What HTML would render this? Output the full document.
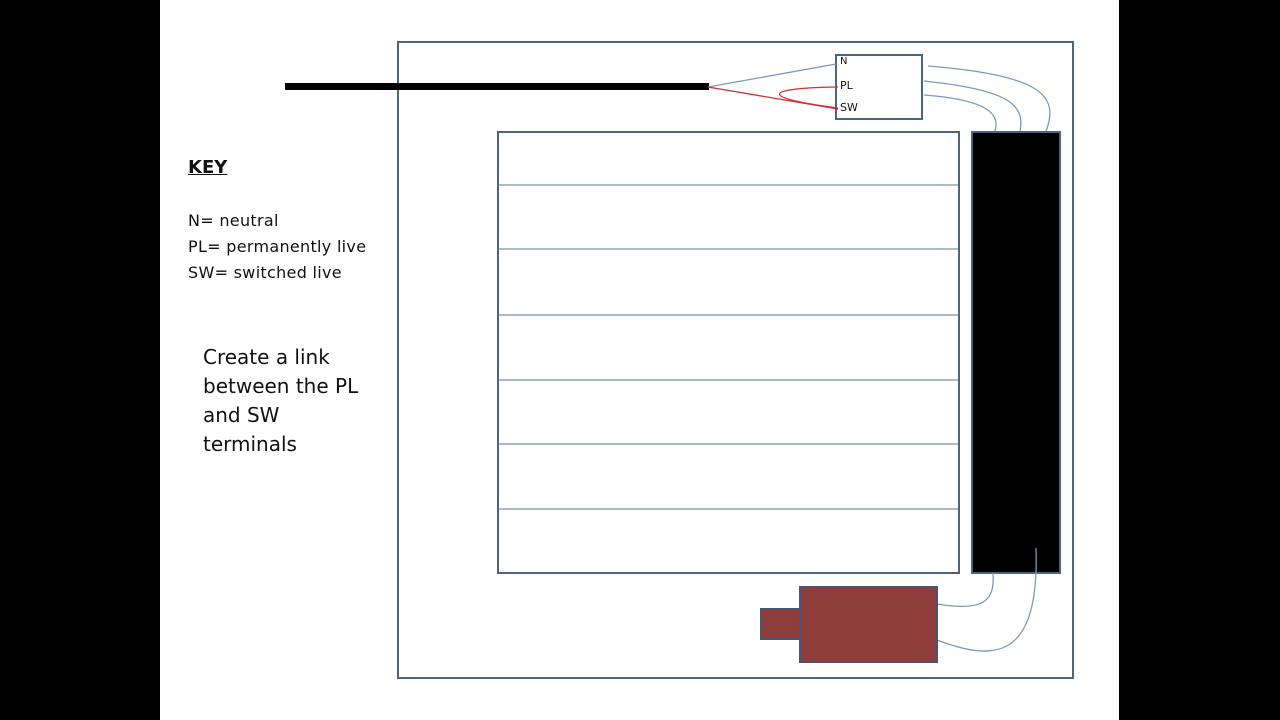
<!DOCTYPE html>
<html><head><style>
body{margin:0;background:#000;width:1280px;height:720px;overflow:hidden;font-family:"DejaVu Sans","Liberation Sans",sans-serif;}
.t{position:absolute;color:#111;}
</style></head><body>
<div style="position:absolute;left:160px;top:0;width:959px;height:720px;background:#fff"></div>
<svg width="1280" height="720" style="position:absolute;left:0;top:0">
<rect x="398" y="42" width="675" height="636" fill="none" stroke="#4a6482" stroke-width="2"/>
<rect x="836" y="55" width="86" height="64" fill="#fff" stroke="#4a6482" stroke-width="2"/>
<rect x="498" y="132" width="461" height="441" fill="none" stroke="#4a6482" stroke-width="2"/>
<g stroke="#7890a8" stroke-width="1.2">
<line x1="499" y1="185" x2="958" y2="185"/><line x1="499" y1="249" x2="958" y2="249"/>
<line x1="499" y1="315" x2="958" y2="315"/><line x1="499" y1="380" x2="958" y2="380"/>
<line x1="499" y1="444" x2="958" y2="444"/><line x1="499" y1="509" x2="958" y2="509"/>
</g>
<rect x="972" y="132" width="88" height="441" fill="#000" stroke="#4a6482" stroke-width="2"/>
<rect x="285" y="83" width="424" height="7" fill="#000"/>
<g fill="none" stroke="#7b9ab8" stroke-width="1.3">
<path d="M708 87 L836 64"/>
<path d="M928 66 C1040 75 1060 95 1046 131"/>
<path d="M924 81 C1010 90 1025 105 1020 131"/>
<path d="M924 95 C990 100 1000 115 995 131"/>
<path d="M937 604 C985 612 995 600 993 573"/>
<path d="M937 640 C990 660 1040 665 1036 548"/>
</g>
<g fill="none" stroke="#d23030" stroke-width="1.3">
<path d="M708 87 L838 109"/>
<path d="M838 87 C760 88 760 98 838 108"/>
</g>
<rect x="761" y="609" width="39" height="30" fill="#8e3d3b" stroke="#4a5470" stroke-width="2"/>
<rect x="800" y="587" width="137" height="75" fill="#8e3d3b" stroke="#4a5470" stroke-width="2"/>
</svg>
<div class="t" style="left:840px;top:56px;font-size:10px">N</div>
<div class="t" style="left:840px;top:79px;font-size:11px">PL</div>
<div class="t" style="left:840px;top:101px;font-size:11px">SW</div>
<div class="t" style="left:188px;top:157px;font-size:18px;font-weight:bold;text-decoration:underline">KEY</div>
<div class="t" style="left:188px;top:208px;font-size:16px;line-height:26px;letter-spacing:0.3px">N= neutral<br>PL= permanently live<br>SW= switched live</div>
<div class="t" style="left:203px;top:343px;font-size:20px;line-height:29px">Create a link<br>between the PL<br>and SW<br>terminals</div>
</body></html>
